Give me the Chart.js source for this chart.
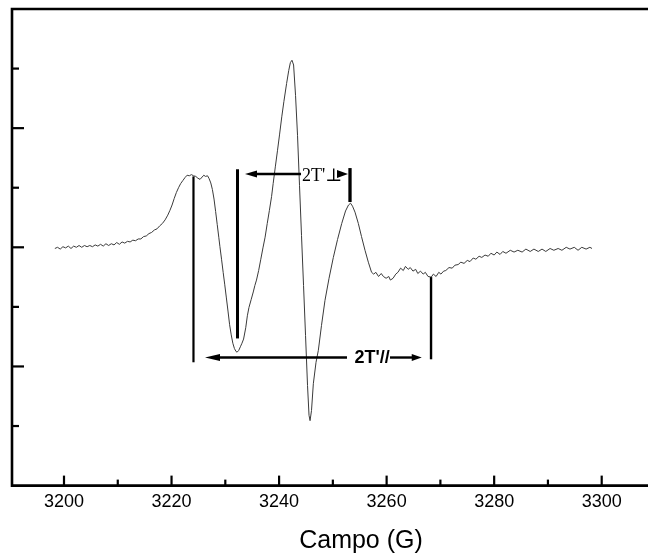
<!DOCTYPE html>
<html>
<head>
<meta charset="utf-8">
<script src="https://cdn.jsdelivr.net/npm/chart.js@4.4.1/dist/chart.umd.min.js"></script>
<style>
  html, body { margin: 0; padding: 0; background: #fff; }
</style>
</head>
<body>
<canvas id="eprChart" width="648" height="556"></canvas>
<script>
// campo magnético (G) y señal EPR (derivada, unidades arbitrarias)
const fieldG = [
  3198.3, 3198.8, 3199.3, 3199.8, 3200.3, 3200.8, 3201.3, 3201.8, 3202.3, 3202.8,
  3203.3, 3203.8, 3204.3, 3204.8, 3205.3, 3205.8, 3206.3, 3206.8, 3207.3, 3207.8,
  3208.3, 3208.8, 3209.3, 3209.8, 3210.3, 3210.8, 3211.3, 3211.8, 3212.3, 3212.8,
  3213.3, 3213.8, 3214.3, 3214.8, 3215.3, 3215.8, 3216.3, 3216.8, 3217.3, 3217.8,
  3218.3, 3218.8, 3219.3, 3219.7, 3220.1, 3220.5, 3220.9, 3221.3, 3221.7, 3222.1,
  3222.5, 3222.9, 3223.3, 3223.7, 3224.1, 3224.5, 3224.9, 3225.3, 3225.7, 3226.0,
  3226.3, 3226.7, 3227.0, 3227.3, 3227.6, 3227.9, 3228.2, 3228.5, 3228.8, 3229.0,
  3229.3, 3229.6, 3229.9, 3230.2, 3230.5, 3230.8, 3231.1, 3231.4, 3231.7, 3232.0,
  3232.2, 3232.5, 3232.8, 3233.1, 3233.4, 3233.8, 3234.1, 3234.4, 3234.8, 3235.2,
  3235.5, 3235.8, 3236.2, 3236.6, 3237.0, 3237.4, 3237.8, 3238.2, 3238.6, 3238.9,
  3239.3, 3239.7, 3240.1, 3240.5, 3240.9, 3241.4, 3241.8, 3242.1, 3242.4, 3242.7,
  3243.06, 3243.43, 3243.8, 3244.17, 3244.55, 3244.92, 3245.29, 3245.57, 3245.76, 3246.03,
  3246.37, 3246.87, 3247.3, 3247.89, 3248.54, 3249.29, 3250.09, 3250.87, 3251.65, 3252.36,
  3252.91, 3253.29, 3253.66, 3254.12, 3254.74, 3255.33, 3255.98, 3256.6, 3257.2, 3257.6,
  3258.0, 3258.5, 3259.0, 3259.4, 3259.9, 3260.4, 3260.7, 3261.2, 3261.7, 3262.1,
  3262.6, 3263.1, 3263.5, 3264.0, 3264.4, 3264.9, 3265.4, 3265.8, 3266.3, 3266.8,
  3267.2, 3267.7, 3268.3, 3268.7, 3269.2, 3269.7, 3270.1, 3270.6, 3271.0, 3271.6,
  3272.2, 3272.7, 3273.3, 3273.8, 3274.4, 3275.0, 3275.5, 3276.1, 3276.6, 3277.2,
  3277.7, 3278.3, 3278.9, 3279.4, 3280.0, 3280.5, 3281.1, 3281.6, 3282.2, 3283.0,
  3283.7, 3284.4, 3285.2, 3285.9, 3286.7, 3287.4, 3288.2, 3288.9, 3289.6, 3290.4,
  3291.1, 3291.9, 3292.6, 3293.4, 3294.1, 3294.9, 3295.6, 3296.3, 3297.1, 3297.8,
  3298.2
];
const signal = [
  -0.02, 0.00, -0.03, 0.01, -0.01, 0.02, -0.02, 0.02, 0.00, 0.03,
  0.00, 0.03, 0.01, 0.03, 0.01, 0.04, 0.02, 0.05, 0.02, 0.06,
  0.03, 0.06, 0.04, 0.08, 0.05, 0.09, 0.07, 0.10, 0.09, 0.12,
  0.11, 0.14, 0.14, 0.18, 0.19, 0.23, 0.25, 0.29, 0.31, 0.36,
  0.40, 0.46, 0.54, 0.62, 0.71, 0.82, 0.92, 1.00, 1.07, 1.12,
  1.17, 1.21, 1.20, 1.22, 1.20, 1.19, 1.16, 1.14, 1.18, 1.21,
  1.19, 1.20, 1.15, 1.08, 0.97, 0.81, 0.60, 0.38, 0.16, 0.01,
  -0.20, -0.42, -0.63, -0.85, -1.07, -1.30, -1.47, -1.61, -1.70, -1.75,
  -1.76, -1.73, -1.67, -1.61, -1.54, -1.35, -1.15, -1.01, -0.88, -0.75,
  -0.64, -0.55, -0.39, -0.20, -0.01, 0.17, 0.40, 0.62, 0.85, 1.07,
  1.35, 1.62, 1.90, 2.19, 2.45, 2.75, 2.97, 3.10, 3.14, 3.06,
  2.55, 1.88, 1.04, 0.20, -0.64, -1.48, -2.32, -2.82, -2.91, -2.74,
  -2.29, -1.93, -1.73, -1.31, -0.89, -0.52, -0.17, 0.13, 0.40, 0.61,
  0.71, 0.74, 0.69, 0.59, 0.40, 0.18, -0.05, -0.25, -0.42, -0.45,
  -0.42, -0.49, -0.44, -0.49, -0.52, -0.49, -0.55, -0.52, -0.45, -0.42,
  -0.35, -0.39, -0.32, -0.37, -0.34, -0.40, -0.37, -0.44, -0.40, -0.45,
  -0.42, -0.49, -0.50, -0.45, -0.49, -0.42, -0.45, -0.40, -0.39, -0.34,
  -0.35, -0.30, -0.29, -0.25, -0.27, -0.22, -0.24, -0.18, -0.20, -0.15,
  -0.17, -0.13, -0.15, -0.10, -0.13, -0.08, -0.12, -0.07, -0.10, -0.05,
  -0.08, -0.05, -0.08, -0.03, -0.07, -0.03, -0.07, -0.03, -0.07, -0.02,
  -0.05, -0.02, -0.05, 0.00, -0.03, 0.00, -0.05, 0.00, -0.03, 0.00,
  -0.02
];

// marcas del eje
const xTickValues = [3200, 3210, 3220, 3230, 3240, 3250, 3260, 3270, 3280, 3290, 3300];
const yTickValues = [-3, -2, -1, 0, 1, 2, 3];

// líneas verticales de referencia (campo, extremo superior, extremo inferior)
const markerField = [3224.08, 3232.27, 3253.19, 3268.26];
const markerTop = [1.19, 1.31, 1.33, -0.50];
const markerBottom = [-1.93, -1.53, 0.76, -1.88];
const markerWidth = [2.2, 3, 3.3, 2.4];

// flechas 2T'⊥ y 2T'//
const perpArrow = { y: 1.23, tipLeft: 3233.66, lineEnd: 3244.08, textAt: 3244.27, tipRight: 3252.82, label: "2T'\u22A5" };
const parArrow = { y: -1.85, tipLeft: 3226.22, lineEnd: 3252.63, textAt: 3257.29, lineStart: 3260.63, tipRight: 3266.53, label: "2T'//" };

const axisTitle = 'Campo (G)';

const sans = "'Liberation Sans', Arial, sans-serif";
const serif = "'Liberation Serif', 'DejaVu Serif', 'Times New Roman', serif";

function arrowHead(ctx, tipX, y, dir, len, half) {
  ctx.beginPath();
  ctx.moveTo(tipX, y);
  ctx.lineTo(tipX - dir * len, y - half);
  ctx.lineTo(tipX - dir * len, y + half);
  ctx.closePath();
  ctx.fill();
}

const frameAndMarks = {
  id: 'frameAndMarks',
  afterDatasetsDraw(chart) {
    const { ctx, chartArea: a, scales: { x, y } } = chart;
    ctx.save();
    ctx.strokeStyle = '#000';
    ctx.fillStyle = '#000';

    // marco: izquierda, arriba y abajo
    ctx.lineWidth = 2.6;
    ctx.lineCap = 'square';
    ctx.beginPath();
    ctx.moveTo(a.right + 3, a.top);
    ctx.lineTo(a.left, a.top);
    ctx.lineTo(a.left, a.bottom);
    ctx.lineTo(a.right + 3, a.bottom);
    ctx.stroke();

    // ticks hacia adentro
    ctx.lineCap = 'butt';
    ctx.lineWidth = 2.2;
    xTickValues.forEach(v => {
      const px = x.getPixelForValue(v);
      const len = v % 20 === 0 ? 10 : 6;
      ctx.beginPath();
      ctx.moveTo(px, a.bottom);
      ctx.lineTo(px, a.bottom - len);
      ctx.stroke();
    });
    yTickValues.forEach(v => {
      const py = y.getPixelForValue(v);
      const len = v % 2 === 0 ? 12 : 7;
      ctx.beginPath();
      ctx.moveTo(a.left, py);
      ctx.lineTo(a.left + len, py);
      ctx.stroke();
    });

    // líneas verticales
    markerField.forEach((g, i) => {
      const px = x.getPixelForValue(g);
      ctx.lineWidth = markerWidth[i];
      ctx.beginPath();
      ctx.moveTo(px, y.getPixelForValue(markerTop[i]));
      ctx.lineTo(px, y.getPixelForValue(markerBottom[i]));
      ctx.stroke();
    });

    // flecha 2T'⊥
    ctx.lineWidth = 2.4;
    let py = y.getPixelForValue(perpArrow.y);
    let tipL = x.getPixelForValue(perpArrow.tipLeft);
    arrowHead(ctx, tipL, py, -1, 12, 3.5);
    ctx.beginPath();
    ctx.moveTo(tipL + 10, py);
    ctx.lineTo(x.getPixelForValue(perpArrow.lineEnd), py);
    ctx.stroke();
    ctx.font = '18px ' + serif;
    ctx.textAlign = 'left';
    ctx.textBaseline = 'middle';
    ctx.fillText(perpArrow.label, x.getPixelForValue(perpArrow.textAt), py + 2);
    arrowHead(ctx, x.getPixelForValue(perpArrow.tipRight), py, 1, 11, 4);

    // flecha 2T'//
    py = y.getPixelForValue(parArrow.y);
    tipL = x.getPixelForValue(parArrow.tipLeft);
    arrowHead(ctx, tipL, py, -1, 15, 3.5);
    ctx.beginPath();
    ctx.moveTo(tipL + 12, py);
    ctx.lineTo(x.getPixelForValue(parArrow.lineEnd), py);
    ctx.stroke();
    const tipR = x.getPixelForValue(parArrow.tipRight);
    ctx.beginPath();
    ctx.moveTo(x.getPixelForValue(parArrow.lineStart), py);
    ctx.lineTo(tipR - 8, py);
    ctx.stroke();
    arrowHead(ctx, tipR, py, 1, 10, 3.5);
    ctx.font = 'bold 18px ' + sans;
    ctx.textAlign = 'center';
    ctx.fillText(parArrow.label, x.getPixelForValue(parArrow.textAt), py + 1);

    // título del eje x, algo desplazado a la derecha
    ctx.font = '25px ' + sans;
    ctx.textAlign = 'center';
    ctx.textBaseline = 'middle';
    ctx.fillText(axisTitle, (a.left + a.right) / 2 + 31, chart.height - 15);

    ctx.restore();
  }
};

const points = fieldG.map((g, i) => ({ x: g, y: signal[i] }));

new Chart(document.getElementById('eprChart'), {
  type: 'line',
  data: {
    datasets: [{
      data: points,
      borderColor: '#3a3a3a',
      borderWidth: 1,
      pointRadius: 0,
      tension: 0,
      fill: false
    }]
  },
  options: {
    responsive: false,
    animation: false,
    devicePixelRatio: 1,
    layout: { padding: { left: 12, top: 9, right: 0, bottom: 0 } },
    plugins: { legend: { display: false }, tooltip: { enabled: false } },
    scales: {
      x: {
        type: 'linear',
        min: 3190.33,
        max: 3308.61,
        afterBuildTicks: axis => { axis.ticks = xTickValues.map(v => ({ value: v })); },
        grid: { display: false, drawTicks: false },
        border: { display: false },
        ticks: {
          autoSkip: false,
          maxRotation: 0,
          padding: 6,
          color: '#000',
          font: { family: sans, size: 18 },
          callback: v => (v % 20 === 0 ? String(v) : '')
        },
        // reserva el espacio del título; el texto se dibuja en el plugin
        title: {
          display: true,
          text: axisTitle,
          color: 'rgba(0,0,0,0)',
          font: { family: sans, size: 24 },
          padding: { top: 8, bottom: 0 }
        }
      },
      y: {
        type: 'linear',
        min: -4,
        max: 4,
        display: false
      }
    }
  },
  plugins: [frameAndMarks]
});
</script>
</body>
</html>
